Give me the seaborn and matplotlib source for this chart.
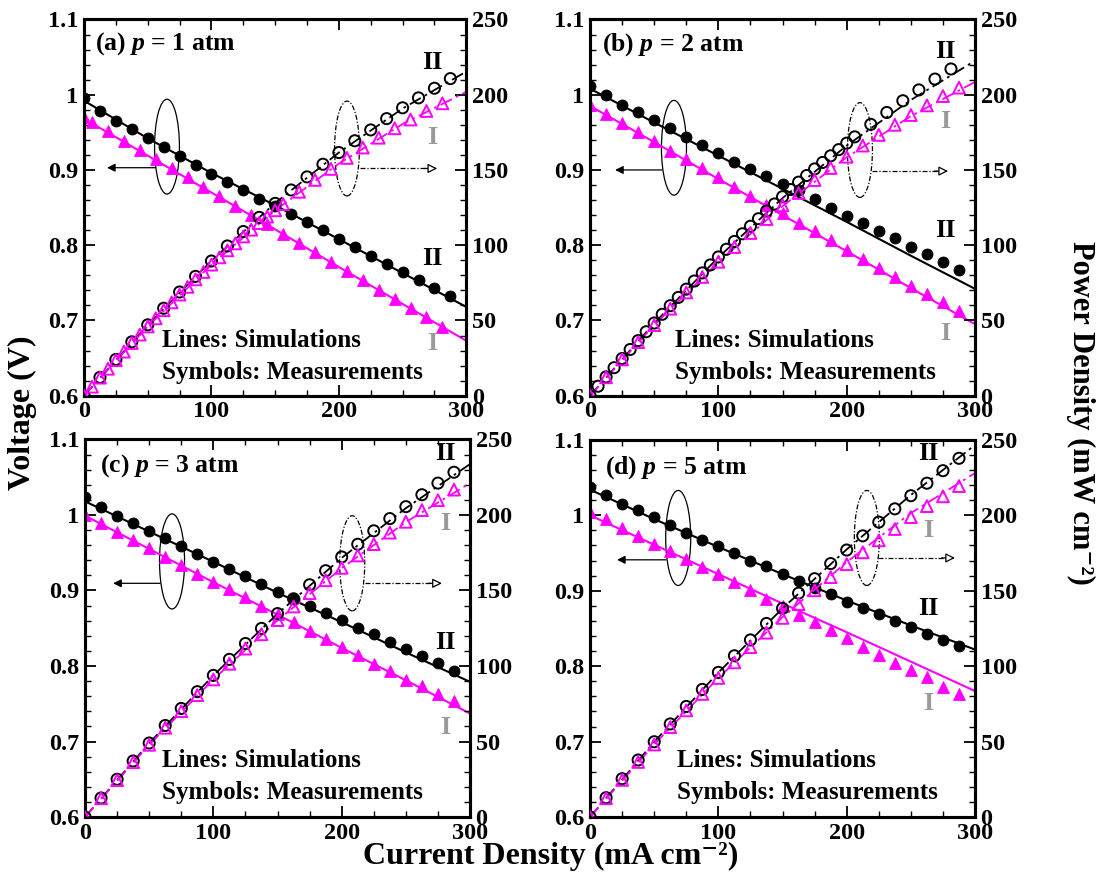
import matplotlib
matplotlib.use("Agg")
import matplotlib.pyplot as plt
from matplotlib.patches import Ellipse
from matplotlib.ticker import MultipleLocator, FuncFormatter
import seaborn as sns

# --- 1. DADOS ---

# densidade de corrente das medições (mA cm-2)
CURRENT = [0, 12.5, 25, 37.5, 50, 62.5, 75, 87.5, 100, 112.5, 125, 137.5,
           150, 162.5, 175, 187.5, 200, 212.5, 225, 237.5, 250, 262.5, 275, 287.5]
CURRENT_A_TRI = [0, 6.25, 18.75, 31.25, 43.75, 56.25, 68.75, 81.25, 93.75, 106.25,
                 118.75, 131.25, 143.75, 156.25, 168.75, 181.25, 193.75, 206.25,
                 218.75, 231.25, 243.75, 256.25, 268.75, 281.25]
CURRENT_A_DENSE = [0, 6.25, 12.5, 18.75, 25, 31.25, 37.5, 43.75, 50, 56.25, 62.5,
                   68.75, 75, 81.25, 87.5, 93.75, 100, 106.25, 112.5, 118.75, 125,
                   131.25, 137.5, 143.75, 150, 156.25, 168.75, 181.25, 193.75,
                   206.25, 218.75, 231.25, 243.75, 256.25, 268.75, 281.25]
CURRENT_B_DENSE = [0, 6.25, 12.5, 18.75, 25, 31.25, 37.5, 43.75, 50, 56.25, 62.5,
                   68.75, 75, 81.25, 87.5, 93.75, 100, 106.25, 112.5, 118.75, 125,
                   131.25, 137.5, 143.75, 150, 156.25, 162.5, 168.75, 175, 181.25,
                   187.5, 193.75, 200, 206.25, 218.75, 231.25, 243.75, 256.25,
                   268.75, 281.25]
SIM_CURRENT = [0, 50, 100, 150, 200, 250, 300]

# (a) p = 1 atm
A_V_II = [0.995, 0.979, 0.965, 0.954, 0.942, 0.930, 0.918, 0.906, 0.895, 0.884, 0.873, 0.862,
          0.852, 0.841, 0.831, 0.820, 0.808, 0.797, 0.785, 0.775, 0.765, 0.754, 0.743, 0.733]
A_V_I = [0.970, 0.964, 0.952, 0.939, 0.927, 0.914, 0.902, 0.890, 0.877, 0.865, 0.852, 0.840,
         0.828, 0.815, 0.803, 0.791, 0.778, 0.766, 0.754, 0.741, 0.729, 0.716, 0.704, 0.691]
A_P_II = [0, 12.2, 24.1, 35.8, 47.1, 58.1, 68.9, 79.3, 89.5, 99.5, 109.1, 118.5,
          127.8, 136.7, 145.4, 153.8, 161.6, 169.4, 176.6, 184.1, 191.3, 197.9, 204.3, 210.7]
A_P_I = [0, 6.0, 12.0, 17.9, 23.6, 29.3, 35.0, 40.6, 46.0, 51.4, 56.8, 62.0, 67.2, 72.3,
         77.3, 82.2, 87.1, 91.9, 96.6, 101.2, 105.8, 110.3, 114.7, 119.0, 123.2, 127.3,
         135.5, 143.4, 150.7, 158.0, 164.9, 171.4, 177.7, 183.5, 189.2, 194.3]
A_SIM_V_II = [0.992, 0.942, 0.896, 0.853, 0.808, 0.763, 0.718]
A_SIM_V_I = [0.968, 0.919, 0.870, 0.821, 0.771, 0.722, 0.673]
A_SIM_P_II = [0, 47.1, 89.6, 128.0, 161.6, 190.8, 215.4]
A_SIM_P_I = [0, 46.0, 87.0, 123.2, 154.2, 180.5, 201.9]

# (b) p = 2 atm
B_V_II = [1.012, 0.999, 0.986, 0.977, 0.966, 0.956, 0.944, 0.933, 0.922, 0.911, 0.901, 0.892,
          0.881, 0.873, 0.861, 0.850, 0.839, 0.829, 0.819, 0.809, 0.798, 0.788, 0.778, 0.767]
B_V_I = [0.986, 0.974, 0.963, 0.950, 0.938, 0.925, 0.914, 0.902, 0.890, 0.878, 0.865, 0.854,
         0.843, 0.829, 0.819, 0.807, 0.794, 0.782, 0.770, 0.758, 0.746, 0.735, 0.724, 0.712]
B_P_II = [0, 6.3, 12.5, 18.6, 24.7, 30.7, 36.6, 42.5, 48.3, 54.1, 59.8, 65.3, 70.8, 76.2,
          81.6, 86.9, 92.2, 97.3, 102.5, 107.6, 112.6, 117.6, 122.7, 127.4, 132.2, 137.0,
          141.9, 146.3, 150.7, 155.0, 159.4, 163.5, 167.8, 172.0, 180.3, 188.2, 196.0,
          203.2, 210.4, 217.1]
B_P_I = [0, 12.2, 24.1, 35.6, 46.9, 57.8, 68.6, 78.9, 89.0, 98.8, 108.1, 117.4,
         126.5, 134.7, 143.3, 151.3, 158.8, 166.2, 173.3, 180.0, 186.5, 192.9, 199.1, 204.7]
B_SIM_V_II = [1.008, 0.963, 0.919, 0.875, 0.831, 0.786, 0.742]
B_SIM_V_I = [0.985, 0.937, 0.888, 0.840, 0.792, 0.743, 0.695]
B_SIM_P_II = [0, 48.2, 91.9, 131.3, 166.2, 196.5, 222.6]
B_SIM_P_I = [0, 46.9, 88.8, 126.0, 158.4, 185.8, 208.5]

# (c) p = 3 atm
C_V_II = [1.024, 1.011, 0.998, 0.989, 0.979, 0.969, 0.959, 0.948, 0.938, 0.928, 0.919, 0.908,
          0.898, 0.889, 0.879, 0.870, 0.861, 0.850, 0.842, 0.832, 0.822, 0.813, 0.804, 0.794]
C_V_I = [1.000, 0.989, 0.977, 0.967, 0.956, 0.945, 0.934, 0.922, 0.911, 0.902, 0.892, 0.880,
         0.869, 0.858, 0.847, 0.836, 0.825, 0.815, 0.803, 0.793, 0.782, 0.774, 0.763, 0.754]
C_P_II = [0, 12.6, 25.0, 37.1, 49.0, 60.6, 71.9, 83.0, 93.8, 104.4, 114.9, 124.9,
          134.7, 144.5, 153.8, 163.1, 172.2, 180.6, 189.5, 197.6, 205.5, 213.4, 221.1, 228.3]
C_P_I = [0, 12.4, 24.4, 36.3, 47.8, 59.1, 70.1, 80.7, 91.1, 101.5, 111.5, 121.0,
         130.4, 139.4, 148.2, 156.8, 165.0, 173.2, 180.7, 188.3, 195.5, 203.2, 209.8, 216.8]
C_SIM_V_II = [1.018, 0.978, 0.938, 0.897, 0.858, 0.818, 0.779]
C_SIM_V_I = [0.999, 0.955, 0.911, 0.868, 0.824, 0.781, 0.737]
C_SIM_P_II = [0, 48.9, 93.8, 134.6, 171.6, 204.5, 233.7]
C_SIM_P_I = [0, 47.8, 91.1, 130.2, 164.8, 195.3, 221.1]

# (d) p = 5 atm
D_V_II = [1.038, 1.027, 1.015, 1.007, 0.998, 0.987, 0.977, 0.967, 0.959, 0.950, 0.939, 0.933,
          0.922, 0.913, 0.903, 0.896, 0.885, 0.877, 0.869, 0.860, 0.852, 0.843, 0.835, 0.827]
D_V_I = [1.005, 0.995, 0.983, 0.973, 0.962, 0.953, 0.942, 0.932, 0.922, 0.911, 0.901, 0.889,
         0.880, 0.868, 0.859, 0.848, 0.838, 0.826, 0.815, 0.804, 0.795, 0.785, 0.773, 0.763]
D_P_II = [0, 12.8, 25.4, 37.8, 49.9, 61.7, 73.3, 84.6, 95.9, 106.9, 117.4, 128.3,
          138.3, 148.4, 158.0, 168.0, 177.0, 186.4, 195.5, 204.3, 213.0, 221.3, 229.6, 237.8]
D_P_I = [0, 12.4, 24.6, 36.5, 48.1, 59.6, 70.7, 81.6, 92.2, 102.5, 112.6, 122.2,
         132.0, 141.1, 150.3, 159.0, 167.6, 175.5, 183.4, 190.9, 198.8, 206.1, 212.6, 219.4]
D_SIM_V_II = [1.034, 0.995, 0.958, 0.922, 0.887, 0.854, 0.822]
D_SIM_V_I = [1.000, 0.961, 0.922, 0.883, 0.845, 0.806, 0.767]
D_SIM_P_II = [0, 49.8, 95.8, 138.3, 177.4, 213.5, 246.6]
D_SIM_P_I = [0, 48.1, 92.2, 132.5, 169.0, 201.5, 228.0]

PRESSURES = [1, 2, 3, 5]
LETTERS = ["a", "b", "c", "d"]

# --- 2. ESTILO ---
MAGENTA = "#ff00ff"
GREY = "#9a9a9a"
DASHDOT = (0, (7, 2.5, 1.5, 2.5))

sns.set_style("ticks")
plt.rcParams["font.family"] = ["Liberation Serif", "DejaVu Serif"]
plt.rcParams["font.weight"] = "bold"
plt.rcParams["mathtext.fontset"] = "custom"
plt.rcParams["mathtext.rm"] = "Liberation Serif:bold"
plt.rcParams["mathtext.it"] = "Liberation Serif:bold:italic"
plt.rcParams["mathtext.bf"] = "Liberation Serif:bold"
for key in ["text.color", "axes.labelcolor", "axes.edgecolor", "xtick.color", "ytick.color"]:
    plt.rcParams[key] = "black"


def draw_panel(ax, letter, p, cur_v_ii, v_ii, cur_v_i, v_i, cur_p_ii, p_ii,
               cur_p_i, p_i, sim_v_ii, sim_v_i, sim_p_ii, sim_p_i, deco):
    ax2 = ax.twinx()

    # simulações (linhas)
    sns.lineplot(x=SIM_CURRENT, y=sim_v_ii, color="black", lw=1.5, ax=ax, zorder=2)
    sns.lineplot(x=SIM_CURRENT, y=sim_v_i, color=MAGENTA, lw=1.5, ax=ax, zorder=2)
    sns.lineplot(x=SIM_CURRENT, y=sim_p_ii, color="black", lw=1.3, ls=DASHDOT, ax=ax2, zorder=2)
    sns.lineplot(x=SIM_CURRENT, y=sim_p_i, color=MAGENTA, lw=1.3, ls=DASHDOT, ax=ax2, zorder=2)

    # medições (símbolos)
    sns.scatterplot(x=cur_v_ii, y=v_ii, marker="o", s=62, color="black",
                    edgecolor="black", ax=ax, zorder=3)
    sns.scatterplot(x=cur_v_i, y=v_i, marker="^", s=72, color=MAGENTA,
                    edgecolor=MAGENTA, ax=ax, zorder=3)
    sns.scatterplot(x=cur_p_ii, y=p_ii, marker="o", s=64, color="black",
                    facecolor="none", edgecolor="black", linewidth=1.4, ax=ax2, zorder=3)
    sns.scatterplot(x=cur_p_i, y=p_i, marker="^", s=72, color=MAGENTA,
                    facecolor="none", edgecolor=MAGENTA, linewidth=1.4, ax=ax2, zorder=3)

    # eixos
    ax.set_xlim(0, 300)
    ax.set_ylim(0.6, 1.1)
    ax2.set_ylim(0, 250)
    ax.xaxis.set_major_locator(MultipleLocator(100))
    ax.xaxis.set_minor_locator(MultipleLocator(25))
    ax.yaxis.set_major_locator(MultipleLocator(0.1))
    ax.yaxis.set_minor_locator(MultipleLocator(0.02))
    ax.yaxis.set_major_formatter(FuncFormatter(lambda v, _: f"{v:g}"))
    ax2.yaxis.set_major_locator(MultipleLocator(50))
    ax2.yaxis.set_minor_locator(MultipleLocator(10))
    ax.tick_params(which="major", direction="in", length=8, width=1.3, top=True,
                   right=False, labelsize=17.5, pad=4, colors="black")
    ax.tick_params(which="minor", direction="in", length=4, width=1.0, top=True, right=False)
    ax2.tick_params(which="major", direction="in", length=8, width=1.3, labelsize=17.5,
                    pad=4, colors="black")
    ax2.tick_params(which="minor", direction="in", length=4, width=1.0)
    for a in (ax, ax2):
        a.set_xlabel("")
        a.set_ylabel("")
        for sp in a.spines.values():
            sp.set_visible(True)
            sp.set_linewidth(2.2)
            sp.set_color("black")

    # textos
    ax.text(deco["title"][0], deco["title"][1], f"({letter}) $p$ = {p} atm",
            transform=ax.transAxes, fontsize=18.5, va="center", ha="left")
    ax.text(deco["note"][0], deco["note"][1], "Lines: Simulations",
            transform=ax.transAxes, fontsize=18, va="center", ha="left")
    ax.text(deco["note"][0], deco["note"][2], "Symbols: Measurements",
            transform=ax.transAxes, fontsize=18, va="center", ha="left")
    lx = deco["lab_x"]
    for (yy, txt, col) in zip(deco["lab_y"], ["II", "I", "II", "I"],
                              ["black", GREY, "black", GREY]):
        ax.text(lx, yy, txt, transform=ax.transAxes, fontsize=19, color=col,
                ha="center", va="center")

    # elipses e setas
    ex, ey = deco["ell_v"]
    ax.add_patch(Ellipse((ex, ey), 0.065, 0.252, transform=ax.transAxes,
                         fill=False, ec="black", lw=0.9))
    x0, x1, ya = deco["arr_v"]
    ax.annotate("", xy=(x1, ya), xytext=(x0, ya), xycoords="axes fraction",
                arrowprops=dict(arrowstyle="-|>", color="black", lw=0.9,
                                mutation_scale=12, shrinkA=0, shrinkB=0))
    ex, ey = deco["ell_p"]
    ax.add_patch(Ellipse((ex, ey), 0.065, 0.252, transform=ax.transAxes,
                         fill=False, ec="black", lw=0.9, ls=(0, (4, 1.5, 1, 1.5))))
    x0, x1, ya = deco["arr_p"]
    ax.plot([x0, x1 - 0.03], [ya, ya], transform=ax.transAxes, color="black",
            lw=0.9, ls=(0, (4, 1.5, 1, 1.5)))
    ax.annotate("", xy=(x1, ya), xytext=(x1 - 0.035, ya), xycoords="axes fraction",
                arrowprops=dict(arrowstyle="-|>", fc="white", ec="black", lw=0.9,
                                mutation_scale=14, shrinkA=0, shrinkB=0))


def main():
    fig = plt.figure(figsize=(11, 8.77), dpi=100)
    positions = [
        [0.0764, 0.5488, 0.3475, 0.4290],
        [0.5364, 0.5488, 0.3500, 0.4290],
        [0.0773, 0.0684, 0.3500, 0.4305],
        [0.5364, 0.0684, 0.3500, 0.4300],
    ]
    decos = [
        dict(title=(0.029, 0.936), note=(0.204, 0.146, 0.061), lab_x=0.911,
             lab_y=(0.886, 0.686, 0.364, 0.138), ell_v=(0.217, 0.662),
             arr_v=(0.186, 0.060, 0.606), ell_p=(0.688, 0.657), arr_p=(0.723, 0.924, 0.604)),
        dict(title=(0.031, 0.933), note=(0.221, 0.147, 0.061), lab_x=0.922,
             lab_y=(0.915, 0.728, 0.440, 0.165), ell_v=(0.218, 0.659),
             arr_v=(0.187, 0.065, 0.600), ell_p=(0.701, 0.653), arr_p=(0.732, 0.930, 0.597)),
        dict(title=(0.039, 0.931), note=(0.200, 0.151, 0.066), lab_x=0.935,
             lab_y=(0.963, 0.778, 0.463, 0.238), ell_v=(0.226, 0.677),
             arr_v=(0.195, 0.073, 0.619), ell_p=(0.694, 0.672), arr_p=(0.727, 0.927, 0.619)),
        dict(title=(0.039, 0.926), note=(0.226, 0.151, 0.066), lab_x=0.878,
             lab_y=(0.965, 0.761, 0.554, 0.302), ell_v=(0.229, 0.740),
             arr_v=(0.197, 0.070, 0.682), ell_p=(0.719, 0.740), arr_p=(0.748, 0.948, 0.687)),
    ]
    panels = [
        (CURRENT, A_V_II, CURRENT_A_TRI, A_V_I, CURRENT, A_P_II, CURRENT_A_DENSE, A_P_I,
         A_SIM_V_II, A_SIM_V_I, A_SIM_P_II, A_SIM_P_I),
        (CURRENT, B_V_II, CURRENT, B_V_I, CURRENT_B_DENSE, B_P_II, CURRENT, B_P_I,
         B_SIM_V_II, B_SIM_V_I, B_SIM_P_II, B_SIM_P_I),
        (CURRENT, C_V_II, CURRENT, C_V_I, CURRENT, C_P_II, CURRENT, C_P_I,
         C_SIM_V_II, C_SIM_V_I, C_SIM_P_II, C_SIM_P_I),
        (CURRENT, D_V_II, CURRENT, D_V_I, CURRENT, D_P_II, CURRENT, D_P_I,
         D_SIM_V_II, D_SIM_V_I, D_SIM_P_II, D_SIM_P_I),
    ]
    for pos, letter, p, data, deco in zip(positions, LETTERS, PRESSURES, panels, decos):
        ax = fig.add_axes(pos)
        draw_panel(ax, letter, p, *data, deco)

    fig.text(0.020, 0.529, "Voltage (V)", rotation=90, fontsize=23,
             ha="center", va="center")
    fig.text(0.982, 0.529, "Power Density (mW cm⁻²)", rotation=270, fontsize=22,
             ha="center", va="center")
    fig.text(0.501, 0.023, "Current Density (mA cm⁻²)", fontsize=23,
             ha="center", va="center")

    fig.savefig("out.png", dpi=100)
    plt.close(fig)


if __name__ == "__main__":
    main()
